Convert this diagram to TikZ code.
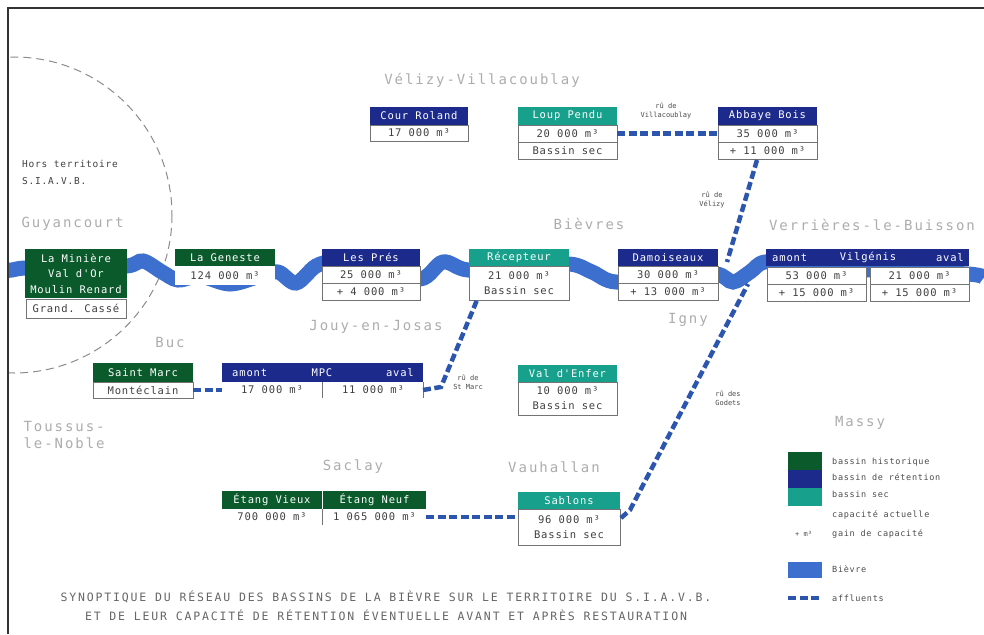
\documentclass[tikz,border=0pt]{standalone}
\usepackage{fontspec}
\setmainfont{DejaVu Sans Mono}
\newfontfamily\monols[LetterSpace=8]{DejaVu Sans Mono}
\newfontfamily\monowide[LetterSpace=14]{DejaVu Sans Mono}
\newfontfamily\monotitle[LetterSpace=16]{DejaVu Sans Mono}
\definecolor{hgreen}{HTML}{0B5A2C}
\definecolor{hblue}{HTML}{1C2A8C}
\definecolor{hteal}{HTML}{17A08C}
\definecolor{riverblue}{HTML}{3D6FCF}
\definecolor{affblue}{HTML}{2C55AE}
\tikzset{
  hdr/.style={anchor=north west, inner sep=0pt, outer sep=0pt, minimum width=100pt,
    minimum height=17pt, text=white, align=center,
    font=\monols\fontsize{10.5}{12.5}\selectfont},
  hg/.style={hdr, fill=hgreen},
  hb/.style={hdr, fill=hblue},
  ht/.style={hdr, fill=hteal},
  cell/.style={anchor=north west, inner sep=0pt, outer sep=0pt, minimum width=100pt,
    minimum height=17pt, fill=white, draw=black!55, line width=0.7pt, text=black!75,
    align=center, font=\monols\fontsize{10.5}{15}\selectfont},
  hsub/.style={inner sep=0pt, text=white, font=\monols\fontsize{10.5}{12.5}\selectfont},
  town/.style={text=black!32, font=\monowide\fontsize{14}{17}\selectfont, align=left},
  aff/.style={draw=affblue, line width=4.5pt, dash pattern=on 8pt off 3.5pt},
  river/.style={draw=riverblue, line width=15pt, line cap=butt},
  afflab/.style={text=black!70, font=\fontsize{7}{8.5}\selectfont, align=center, inner sep=0pt},
  legtxt/.style={anchor=west, text=black!70, font=\monols\fontsize{8.5}{10}\selectfont, inner sep=0pt},
  legbox/.style={anchor=north west, inner sep=0pt, outer sep=0pt, minimum width=34pt, minimum height=18pt},
}
\begin{document}
\begin{tikzpicture}[x=1pt,y=-1pt]
\useasboundingbox (0,0) rectangle (984,634);
\fill[white] (0,0) rectangle (984,634);
% frame
\draw[black!80, line width=1.2pt] (8,634) -- (8,8) -- (984,8);
% dashed boundary circle
\begin{scope}
\clip (9,9) rectangle (984,634);
\draw[black!45, line width=1pt, dash pattern=on 8pt off 5pt] (14,215) circle[radius=158];
% river Bievre
\draw[river] plot[smooth, tension=0.55] coordinates {(0,271) (12,270) (26,268) (76,268) (127,266) (143,261) (162,272) (178,280) (200,276) (230,284) (260,276) (278,272) (296,283) (316,266) (335,262) (375,268) (420,279) (443,262) (468,270) (520,268) (569,264) (592,272) (616,282) (668,276) (716,274) (733,282) (750,272) (765,262) (800,265) (870,270) (968,274) (984,278)};
\end{scope}

% coordinates for tributaries
\coordinate (k1) at (441,387);
\coordinate (k2) at (477,300);
\coordinate (a1) at (757,160);
\coordinate (r1) at (727,262);
\coordinate (s1) at (621,518);
\coordinate (s2) at (630,510);
\coordinate (r2) at (748,284);

% town labels
\node[town, anchor=center] (velizy) at (482,80) {Vélizy-Villacoublay};
\node[town, anchor=west] (guyan) at (18,224) {Guyancourt};
\node[town, anchor=center] (bievres) at (589,224) {Bièvres};
\node[town, anchor=center] (verr) at (872,225) {Verrières-le-Buisson};
\node[town, anchor=center] (buc) at (170,342) {Buc};
\node[town, anchor=center] (jouy) at (376,327) {Jouy-en-Josas};
\node[town, anchor=center] (igny) at (688,320) {Igny};
\node[town, anchor=north west] (toussus) at (20,418) {Toussus-\\le-Noble};
\node[town, anchor=center] (saclay) at (353,467) {Saclay};
\node[town, anchor=center] (vauh) at (554,467) {Vauhallan};
\node[town, anchor=center] (massy) at (860,423) {Massy};
\node[anchor=north west, align=left, text=black!75, inner sep=0pt, font=\monols\fontsize{9.5}{17}\selectfont] (hors) at (22,160) {Hors territoire\\S.I.A.V.B.};

% boxes: La Miniere
\node[hg, minimum width=102pt, minimum height=49pt, font=\monols\fontsize{10.5}{15.5}\selectfont] (min) at (25,249) {La Minière\\Val d'Or\\Moulin Renard};
\node[cell, minimum width=100pt, minimum height=19pt] (minv) at (26,299) {Grand. Cassé};
% La Geneste
\node[hg] (gen) at (175,249) {La Geneste};
\node[cell, minimum height=19pt, draw=none] (genv) at (175,266) {124 000 m³};
% Les Pres
\node[hb, minimum width=98pt] (pres) at (322,249) {Les Prés};
\node[cell, minimum width=98pt] (presv1) at (322,266) {25 000 m³};
\node[cell, minimum width=98pt] (presv2) at (322,283) {+ 4 000 m³};
% Recepteur
\node[ht] (rec) at (469,249) {Récepteur};
\node[cell, minimum height=34pt] (recv) at (469,266) {21 000 m³\\Bassin sec};
% Damoiseaux
\node[hb] (dam) at (618,249) {Damoiseaux};
\node[cell] (damv1) at (618,266) {30 000 m³};
\node[cell] (damv2) at (618,283) {+ 13 000 m³};
% Vilgenis
\node[hb, minimum width=203pt] (vil) at (766,249) {};
\node[hsub, anchor=west] (vilL) at (772,257.5) {amont};
\node[hsub, anchor=center] (vilC) at (868,257.5) {Vilgénis};
\node[hsub, anchor=east] (vilR) at (964,257.5) {aval};
\node[cell, minimum width=99pt] (vilv1) at (767,267) {53 000 m³};
\node[cell, minimum width=99pt] (vilv2) at (870,267) {21 000 m³};
\node[cell, minimum width=99pt] (vilv3) at (767,284) {+ 15 000 m³};
\node[cell, minimum width=99pt] (vilv4) at (870,284) {+ 15 000 m³};
% Cour Roland
\node[hb, minimum width=98pt, minimum height=18pt] (cour) at (370,107) {Cour Roland};
\node[cell, minimum width=98pt, minimum height=16pt] (courv) at (370,125) {17 000 m³};
% Loup Pendu
\node[ht, minimum width=99pt, minimum height=18pt] (loup) at (518,107) {Loup Pendu};
\node[cell, minimum width=99pt] (loupv1) at (518,125) {20 000 m³};
\node[cell, minimum width=99pt] (loupv2) at (518,142) {Bassin sec};
% Abbaye
\node[hb, minimum width=99pt, minimum height=18pt] (abb) at (718,107) {Abbaye Bois};
\node[cell, minimum width=99pt] (abbv1) at (718,125) {35 000 m³};
\node[cell, minimum width=99pt] (abbv2) at (718,142) {+ 11 000 m³};
% Saint Marc
\node[hg, minimum height=19pt] (stm) at (93,363) {Saint Marc};
\node[cell, minimum height=16pt] (stmv) at (93,382) {Montéclain};
% MPC
\node[hb, minimum width=201pt, minimum height=19pt] (mpc) at (222,363) {};
\node[hsub, anchor=west] (mpcL) at (232,372.5) {amont};
\node[hsub, anchor=center] (mpcC) at (322,372.5) {MPC};
\node[hsub, anchor=east] (mpcR) at (414,372.5) {aval};
\node[cell, minimum height=16pt, draw=none] (mpcv1) at (222,382) {17 000 m³};
\node[cell, minimum height=16pt, draw=none] (mpcv2) at (323,382) {11 000 m³};
\draw[black!55, line width=0.7pt] (mpcv1.north east) -- (mpcv1.south east);
\draw[black!55, line width=0.7pt] (mpcv2.north east) -- (mpcv2.south east);
% Val d'Enfer
\node[ht, minimum width=99pt] (enf) at (518,365) {Val d'Enfer};
\node[cell, minimum width=99pt, minimum height=33pt] (enfv) at (518,382) {10 000 m³\\Bassin sec};
% Sablons
\node[ht, minimum width=102pt] (sab) at (518,492) {Sablons};
\node[cell, minimum width=102pt, minimum height=36pt] (sabv) at (518,509) {96 000 m³\\Bassin sec};
% Etangs de Saclay
\node[hg, minimum height=18pt] (ev) at (222,491) {Étang Vieux};
\node[hg, minimum width=103pt, minimum height=18pt] (en) at (323,491) {Étang Neuf};
\node[cell, minimum height=16pt, draw=none] (evv) at (222,509) {700 000 m³};
\node[cell, minimum width=103pt, minimum height=16pt, draw=none] (env) at (323,509) {1 065 000 m³};
\draw[black!55, line width=0.7pt] (evv.north east) -- (evv.south east);

% tributaries
\draw[aff] (stmv.east) -- (mpcv1.west);
\draw[aff] (mpcv2.east) -- (k1) -- (k2);
\draw[aff] (loupv1.east) -- (abbv1.west);
\draw[aff] (a1) -- (r1);
\draw[aff] (env.east) -- (env.east -| sabv.west);
\draw[aff] (s1) -- (s2) -- (r2);

% tributary labels
\node[afflab] (lab1) at (666,111) {rû de\\Villacoublay};
\node[afflab] (lab2) at (712,200) {rû de\\Vélizy};
\node[afflab] (lab3) at (468,382) {rû de\\St Marc};
\node[afflab] (lab4) at (728,398) {rû des\\Godets};

% legend
\node[legbox, fill=hgreen] (lg1) at (788,452) {};
\node[legbox, fill=hblue] (lg2) at (788,470) {};
\node[legbox, fill=hteal] (lg3) at (788,488) {};
\node[legtxt] (lt1) at (832,462) {bassin historique};
\node[legtxt] (lt2) at (832,477) {bassin de rétention};
\node[legtxt] (lt3) at (832,494) {bassin sec};
\node[legtxt] (lt4) at (832,515) {capacité actuelle};
\node[legtxt] (lt5) at (832,534) {gain de capacité};
\node[legtxt, font=\fontsize{7}{8}\selectfont] (lt5b) at (795,534) {+ m³};
\node[legbox, fill=riverblue, minimum height=16pt] (lg4) at (788,562) {};
\node[legtxt] (lt6) at (832,569) {Bièvre};
\coordinate (lga) at (788,598);
\coordinate (lgb) at (822,598);
\draw[aff] (lga) -- (lgb);
\node[legtxt] (lt7) at (832,598) {affluents};

% title
\node[text=black!60, align=center, inner sep=0pt, font=\monotitle\fontsize{11.5}{19}\selectfont] (title) at (386,606) {SYNOPTIQUE DU RÉSEAU DES BASSINS DE LA BIÈVRE SUR LE TERRITOIRE DU S.I.A.V.B.\\ET DE LEUR CAPACITÉ DE RÉTENTION ÉVENTUELLE AVANT ET APRÈS RESTAURATION};
\end{tikzpicture}
\end{document}
